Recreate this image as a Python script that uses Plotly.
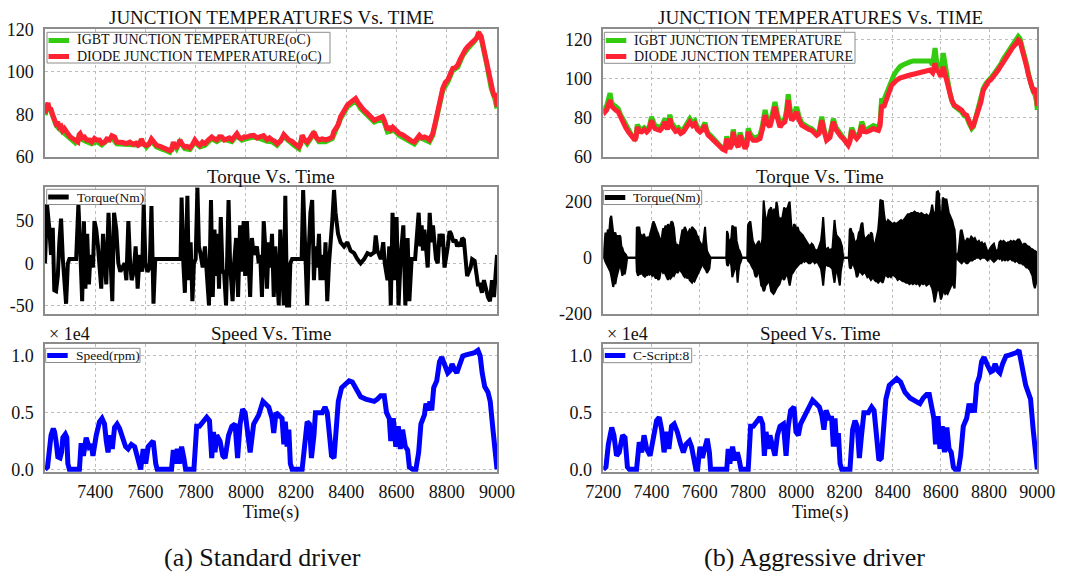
import plotly.graph_objects as go

# ---------------------------------------------------------------- data
# (a) Standard driver -- junction temperatures (degC)
t_temp_std = [7200, 7208, 7212, 7216, 7222, 7231, 7238, 7244, 7250, 7257, 7264, 7270, 7277, 7284, 7291,
              7300, 7311, 7320, 7331, 7336, 7340, 7348, 7357, 7366, 7377, 7386, 7397, 7406, 7417, 7426,
              7437, 7446, 7457, 7466, 7477, 7486, 7497, 7510, 7524, 7538, 7551, 7562, 7571, 7578, 7584,
              7592, 7604, 7614, 7624, 7632, 7644, 7658, 7671, 7684, 7697, 7705, 7711, 7718, 7724, 7731,
              7737, 7746, 7757, 7766, 7777, 7788, 7797, 7806, 7817, 7827, 7837, 7850, 7864, 7874, 7884,
              7894, 7904, 7914, 7924, 7934, 7944, 7954, 7964, 7974, 7984, 7994, 8004, 8018, 8031, 8044,
              8057, 8070, 8084, 8094, 8104, 8114, 8124, 8138, 8151, 8161, 8171, 8181, 8191, 8201, 8211,
              8218, 8224, 8234, 8244, 8256, 8271, 8281, 8291, 8304, 8317, 8330, 8344, 8350, 8357, 8367,
              8377, 8390, 8404, 8420, 8437, 8447, 8457, 8470, 8484, 8497, 8511, 8524, 8537, 8544, 8551,
              8558, 8564, 8571, 8578, 8585, 8591, 8600, 8611, 8624, 8637, 8650, 8660, 8671, 8681, 8691,
              8701, 8711, 8721, 8731, 8738, 8744, 8754, 8764, 8774, 8784, 8794, 8804, 8814, 8824, 8834,
              8844, 8854, 8864, 8874, 8884, 8898, 8911, 8920, 8927, 8932, 8937, 8947, 8957, 8967, 8977,
              8985, 8991, 8996, 9000]
diode_std = [80.5, 84, 85.5, 82, 83, 79.7, 78, 75.7, 76.5, 74, 74.5, 72.5, 73.4, 71.5, 71,
             69.5, 68.7, 67.5, 67, 70.5, 71, 69, 69.4, 68, 68, 67, 68.7, 68, 68, 66.5,
             67, 68.5, 68, 70, 69.4, 67, 67, 66.8, 66.3, 67, 66, 66.5, 65.5, 66, 68.5,
             66, 65.5, 66, 68.5, 67, 65.5, 65, 64.3, 63.8, 63, 63.5, 67, 65, 64.7, 66,
             68, 66, 64.7, 65, 64.3, 66, 68, 66.5, 65.5, 67, 66.3, 68, 69.4, 68.5, 68,
             69.5, 69.4, 68, 68.7, 69, 68, 69.5, 71, 69, 68.7, 69.5, 69.4, 70, 70.2, 69,
             69.4, 70, 68.2, 69, 68, 67.5, 66.3, 67.5, 70.5, 69, 68, 67.5, 66.3, 65.5, 64.7,
             66, 70.2, 68, 67, 69, 71.8, 69, 68, 68.5, 68, 68.5, 69.4, 72, 73.4, 75,
             78.9, 82, 84.4, 86, 87.5, 85.5, 83.6, 82, 80.5, 79, 77.3, 78, 78.6, 79, 77.3,
             74, 72.6, 74.5, 73, 74, 73.4, 72.5, 71, 70.5, 69.4, 68, 67.5, 67, 68.5, 70.2,
             69, 69.4, 69, 68, 69.5, 71, 76, 82, 87, 92.3, 95, 96.2, 99, 101.7, 102,
             103.3, 106, 108.8, 110.5, 112, 113.5, 115.4, 116, 118.6, 118, 116.7, 111, 105.7, 99, 93,
             90, 88.3, 90, 83.6]
t_igbt_std = [7200, 7212, 7222, 7231, 7244, 7257, 7270, 7284, 7300, 7320, 7336, 7348, 7366, 7386, 7406,
              7426, 7446, 7466, 7486, 7510, 7538, 7562, 7584, 7604, 7624, 7644, 7671, 7697, 7711, 7724,
              7737, 7757, 7777, 7797, 7817, 7837, 7864, 7884, 7904, 7924, 7944, 7964, 7984, 8004, 8031,
              8057, 8084, 8104, 8124, 8151, 8171, 8191, 8211, 8224, 8244, 8271, 8291, 8317, 8344, 8357,
              8377, 8404, 8437, 8457, 8484, 8511, 8537, 8551, 8564, 8591, 8611, 8637, 8671, 8691, 8711,
              8731, 8744, 8764, 8784, 8804, 8824, 8844, 8864, 8884, 8911, 8927, 8937, 8957, 8977, 8991,
              9000]
igbt_std = [79.7, 84.5, 82.2, 78.9, 74.9, 73.2, 71.7, 70.7, 68.7, 66.7, 69.6, 68.2, 67.2, 66.2, 67.2,
            65.7, 67.6, 69.1, 66.2, 66, 66.2, 65.7, 67.6, 64.7, 67.6, 64.7, 63.5, 62.2, 66.1, 63.9,
            67.1, 63.9, 63.5, 67.1, 64.7, 65.5, 68.6, 67.2, 68.6, 67.9, 67.2, 70.1, 67.9, 68.6, 69.4,
            68.6, 67.4, 67.2, 65.5, 69.6, 67.2, 65.5, 63.9, 69.3, 66.2, 70.9, 67.2, 67.2, 68.6, 72.5,
            78, 83.5, 86.6, 82.7, 79.6, 76.4, 77.7, 76.4, 71.7, 72.5, 70.1, 68.5, 66.1, 69.3, 68.5,
            67.1, 70.1, 80.8, 91.3, 95.2, 100.7, 102.3, 107.8, 111, 114.5, 117.6, 115.8, 104.8, 92.2, 87.5,
            82.8]

# (a) Standard driver -- torque (Nm)
t_torque_std = [7200, 7208, 7217, 7224, 7231, 7237, 7244, 7251, 7257, 7264, 7271, 7277, 7284, 7291, 7297,
                7324, 7333, 7340, 7348, 7355, 7361, 7368, 7375, 7381, 7391, 7397, 7404, 7411, 7417, 7424,
                7431, 7437, 7444, 7453, 7460, 7468, 7475, 7484, 7492, 7500, 7508, 7517, 7524, 7532, 7539,
                7545, 7553, 7561, 7569, 7577, 7587, 7593, 7600, 7608, 7617, 7624, 7632, 7639, 7740, 7744,
                7751, 7757, 7767, 7773, 7780, 7787, 7793, 7800, 7807, 7813, 7820, 7828, 7837, 7844, 7853,
                7861, 7868, 7875, 7881, 7887, 7893, 7900, 7907, 7913, 7921, 7931, 7937, 7947, 7953, 7961,
                7969, 7977, 7984, 7991, 7997, 8004, 8011, 8017, 8024, 8031, 8037, 8044, 8051, 8057, 8064,
                8071, 8077, 8084, 8091, 8097, 8104, 8111, 8117, 8124, 8131, 8137, 8144, 8151, 8157, 8164,
                8172, 8177, 8184, 8222, 8228, 8235, 8244, 8251, 8257, 8264, 8271, 8277, 8284, 8291, 8297,
                8304, 8311, 8317, 8324, 8331, 8337, 8344, 8351, 8357, 8367, 8377, 8391, 8404, 8417, 8431,
                8444, 8457, 8471, 8484, 8497, 8511, 8517, 8524, 8537, 8547, 8553, 8564, 8571, 8577, 8584,
                8591, 8600, 8608, 8617, 8627, 8635, 8644, 8651, 8660, 8674, 8681, 8688, 8695, 8700, 8705,
                8711, 8717, 8724, 8732, 8739, 8745, 8751, 8757, 8764, 8771, 8777, 8784, 8791, 8797, 8804,
                8811, 8817, 8827, 8835, 8841, 8848, 8855, 8861, 8868, 8875, 8881, 8888, 8895, 8901, 8911,
                8917, 8924, 8932, 8940, 8948, 8957, 8964, 8972, 8980, 8988, 8995, 9000]
torque_std = [0, 70, 42, 10, 42, -32, -33, -15, 25, 53, 5, -25, -48, 0, 5,
              5, 70, 20, -45, 50, -30, 35, -25, 10, -5, 50, 40, 20, -10, -30,
              35, 10, -25, 60, 10, -45, 60, 40, 0, -10, -5, 0, -20, 50, 0,
              -20, -10, 20, -30, 10, -10, 70, 0, -10, -5, 68, -48, 5, 5, 78,
              0, -35, 80, -20, 25, -45, 0, 5, 90, 20, 10, -5, 20, -10, -50,
              75, -40, 40, -15, 35, -30, 55, -10, -10, -50, 75, 0, -45, 0, 30,
              -40, 45, -10, 50, -15, 50, 10, -40, 30, 10, 15, 20, 0, 10, -40,
              50, 20, -30, 25, -5, 35, -40, 20, -20, -50, 40, -10, -50, 80, -50,
              -50, 0, 5, 5, 87, 20, -50, 20, 60, 75, -20, 20, -5, 35, -20,
              10, -20, 25, -45, 0, 20, 50, 87, 60, 35, 25, 20, 25, 15, 12,
              5, 0, 5, 12, 10, 13, 33, 15, 5, 25, 0, -20, 20, -50, 60,
              -20, 55, -50, 10, 45, -50, 30, -45, 5, 5, 30, 60, 20, 45, 15,
              40, 20, -5, 60, 25, 45, 20, 5, 0, 35, 20, 35, -5, 5, 20,
              38, 35, 25, 28, 20, 25, 20, 30, 28, 10, -15, -10, -5, 5, 3,
              -10, -25, -25, -35, -20, -35, -40, -45, -20, -40, -10, 10]

# (a) Standard driver -- motor speed (rpm)
t_speed_std = [7200, 7210, 7215, 7224, 7233, 7238, 7244, 7251, 7260, 7266, 7271, 7281, 7287, 7291, 7297,
               7337, 7344, 7353, 7364, 7375, 7384, 7391, 7404, 7417, 7427, 7437, 7444, 7451, 7460, 7468,
               7477, 7487, 7497, 7511, 7521, 7531, 7544, 7557, 7571, 7581, 7591, 7601, 7611, 7621, 7631,
               7641, 7647, 7704, 7711, 7717, 7727, 7735, 7744, 7753, 7760, 7793, 7804, 7815, 7831, 7844,
               7855, 7864, 7871, 7877, 7884, 7897, 7908, 7917, 7931, 7944, 7957, 7967, 7977, 7987, 7997,
               8007, 8017, 8031, 8051, 8068, 8084, 8091, 8104, 8111, 8120, 8131, 8144, 8151, 8157, 8164,
               8171, 8177, 8184, 8224, 8235, 8244, 8253, 8261, 8271, 8277, 8291, 8304, 8315, 8324, 8333,
               8341, 8351, 8357, 8368, 8381, 8397, 8411, 8424, 8437, 8457, 8477, 8497, 8511, 8524, 8537,
               8551, 8560, 8571, 8577, 8587, 8597, 8607, 8615, 8624, 8635, 8644, 8651, 8664, 8677, 8688,
               8697, 8711, 8717, 8727, 8733, 8740, 8748, 8760, 8771, 8780, 8791, 8804, 8813, 8821, 8831,
               8840, 8851, 8864, 8877, 8897, 8911, 8924, 8933, 8941, 8951, 8964, 8973, 8984, 8997, 9000]
speed_std = [0, 200, 1200, 3000, 3600, 3300, 2500, 1100, 1000, 1500, 2800, 3100, 2800, 500, 0,
             0, 2300, 1200, 2800, 2000, 2200, 1200, 3000, 4200, 4500, 4000, 2500, 1500, 3000, 1800,
             3700, 4000, 3600, 2500, 2000, 1800, 2200, 2000, 1000, 0, 1800, 500, 2000, 2200, 2500,
             500, 0, 0, 1700, 500, 1800, 500, 2000, 1000, 0, 0, 3800, 3800, 4200, 4600,
             4300, 1000, 3300, 1500, 3000, 2500, 1200, 1000, 3000, 3800, 4000, 1000, 4000, 5300, 5000,
             3500, 1500, 4000, 4800, 6000, 5600, 5500, 4500, 3200, 5000, 4700, 4500, 2200, 4200, 2000,
             3500, 500, 0, 0, 3000, 4200, 4000, 1000, 3000, 5000, 5000, 5000, 5500, 5000, 3000,
             1200, 1000, 3000, 6000, 7200, 7600, 7800, 7700, 7200, 6400, 6200, 6100, 6000, 6200, 6500,
             6500, 5000, 4500, 2500, 4500, 2000, 3800, 1800, 3500, 2000, 1700, 200, 0, 0, 1500,
             4000, 4800, 5800, 5200, 6000, 5200, 7200, 7800, 9500, 9900, 9200, 8500, 8700, 9300, 8800,
             8500, 9200, 10000, 10100, 10200, 10300, 10500, 10000, 8500, 7300, 6800, 6000, 3500, 200, 0]

# (b) Aggressive driver -- junction temperatures (degC)
t_temp_agg = [7200, 7207, 7214, 7221, 7228, 7234, 7241, 7250, 7262, 7272, 7283, 7293, 7304, 7318, 7331,
              7336, 7341, 7350, 7359, 7370, 7380, 7390, 7400, 7407, 7414, 7425, 7435, 7445, 7456, 7466,
              7476, 7483, 7490, 7500, 7511, 7521, 7532, 7545, 7559, 7570, 7580, 7590, 7601, 7612, 7622,
              7628, 7635, 7645, 7656, 7670, 7684, 7695, 7705, 7712, 7718, 7725, 7732, 7739, 7746, 7753,
              7760, 7767, 7777, 7788, 7795, 7801, 7811, 7822, 7836, 7850, 7860, 7871, 7880, 7891, 7901,
              7912, 7922, 7933, 7943, 7953, 7960, 7967, 7974, 7981, 7991, 8002, 8012, 8023, 8033, 8043,
              8053, 8064, 8075, 8085, 8095, 8106, 8116, 8126, 8140, 8154, 8165, 8175, 8185, 8195, 8205,
              8216, 8223, 8230, 8240, 8251, 8262, 8272, 8282, 8292, 8306, 8320, 8330, 8341, 8348, 8354,
              8365, 8375, 8385, 8396, 8406, 8417, 8430, 8444, 8458, 8472, 8486, 8500, 8513, 8527, 8541,
              8555, 8566, 8576, 8583, 8590, 8600, 8610, 8618, 8627, 8636, 8645, 8655, 8666, 8676, 8686,
              8697, 8707, 8718, 8728, 8735, 8742, 8749, 8756, 8766, 8776, 8787, 8797, 8808, 8818, 8828,
              8838, 8849, 8859, 8870, 8880, 8890, 8900, 8910, 8921, 8928, 8935, 8945, 8956, 8963, 8970,
              8977, 8983, 8990, 8997, 9000]
diode_agg = [84.5, 83, 84, 86, 89, 86, 84.7, 84, 83, 80, 77.9, 75, 72.8, 70, 68.5,
             70, 75.3, 73, 72.8, 74, 72.8, 74, 78.7, 76, 74.5, 74, 73.6, 75, 77.9, 74,
             79.6, 76, 74.5, 73, 73.6, 72, 72.8, 75, 77.9, 76, 77, 74, 72.8, 74, 76.2,
             73, 71.1, 70, 68.5, 66.5, 65.1, 64, 63.4, 69.4, 66, 64.3, 66, 72.8, 68, 66,
             65, 71.1, 67, 64.3, 66, 72.8, 70, 68.5, 68.5, 69.4, 74, 81.3, 77, 75.3, 80,
             85.6, 80, 75.3, 77, 77.9, 82, 89, 83, 78.7, 80, 83, 79, 76.2, 75.5, 74.5,
             74, 73.6, 72.5, 71.1, 72, 78.7, 73, 68.5, 70, 77.9, 74, 71.9, 70.5, 69.4, 67.5,
             66, 68, 73.6, 71, 69.4, 71, 76.2, 73, 72.8, 73.5, 74.5, 74, 73.6, 76, 85.6,
             86, 90.7, 93, 96.6, 98, 99.2, 100.2, 100.9, 101.5, 101.8, 102.2, 102.6, 103, 103.5, 104,
             104.3, 103, 107.7, 104, 103.5, 101, 106, 102, 97.5, 92, 89, 86.5, 85.6, 84.5, 83.9,
             82, 81.3, 78, 75.3, 76, 78.7, 81, 83.9, 88, 94.1, 96.5, 98.4, 99.5, 100.9, 102.5,
             104.3, 106.5, 108.6, 110.5, 112, 114, 116.2, 117.5, 119.7, 119, 116.2, 111, 106, 102, 97.5,
             96, 94.1, 95, 92, 86]
igbt_agg = [86, 85, 86, 89, 92.5, 88, 86.5, 86, 84.5, 81.5, 79, 76, 73.8, 71, 69.5,
            71, 76.5, 74.5, 74, 75, 74, 75, 80.5, 77.5, 76, 75.5, 75, 76.5, 79.5, 75.5,
            81.5, 77.5, 76, 74.5, 75, 73.5, 74, 76.5, 79.5, 77.5, 78.5, 75, 74, 75, 77.5,
            74, 72, 71, 69.3, 67.2, 65.8, 64.7, 64, 70.5, 67, 65, 67, 74, 69, 67,
            66, 72.5, 68, 65, 67, 74.5, 71.5, 70, 70, 71, 76, 84, 79, 77, 82,
            88, 82, 77, 78.5, 79.5, 84, 92, 85, 80.5, 82, 85.5, 80.5, 77.5, 76.5, 75.5,
            75, 74.5, 73.5, 72, 73, 80.5, 74, 69.5, 71, 79.5, 75, 73, 71.5, 70.2, 68.2,
            66.7, 69, 75, 72, 70.5, 72, 78, 74.5, 74, 75, 76, 75.5, 75, 78, 89,
            89.5, 93, 96, 100, 102, 104, 106, 107, 108, 108.5, 109, 109, 109, 109.5, 109.5,
            109, 107, 115.5, 108, 106, 104, 113, 106, 100, 93.5, 89, 86, 85, 84, 83,
            81, 80.5, 77, 74.5, 75.5, 78.7, 81.5, 84.5, 89, 95, 97.5, 99.5, 100.5, 102, 103.5,
            105.5, 107.5, 110, 112, 113.5, 115.5, 118, 119.5, 121.5, 120.5, 117.5, 112, 107, 102.5, 98,
            96, 93.5, 92, 88, 84]

# (b) Aggressive driver -- torque (Nm): upper and lower extent of the fast oscillation
t_torque_agg = [7200, 7205, 7209, 7214, 7219, 7225, 7229, 7233, 7237, 7241, 7246, 7250, 7255, 7259, 7263,
                7267, 7271, 7275, 7279, 7284, 7289, 7294, 7299, 7337, 7339, 7344, 7349, 7353, 7358, 7363,
                7368, 7373, 7378, 7383, 7388, 7393, 7398, 7403, 7408, 7413, 7418, 7423, 7428, 7433, 7438,
                7443, 7448, 7453, 7458, 7463, 7468, 7473, 7478, 7483, 7488, 7493, 7498, 7503, 7508, 7513,
                7518, 7523, 7528, 7533, 7538, 7543, 7548, 7553, 7558, 7563, 7568, 7573, 7578, 7583, 7588,
                7593, 7598, 7603, 7608, 7613, 7618, 7622, 7626, 7630, 7635, 7640, 7645, 7710, 7713, 7717,
                7721, 7726, 7731, 7735, 7740, 7745, 7749, 7753, 7757, 7761, 7765, 7770, 7775, 7797, 7800,
                7805, 7810, 7815, 7820, 7825, 7830, 7835, 7840, 7845, 7850, 7855, 7860, 7865, 7869, 7873,
                7878, 7883, 7887, 7892, 7896, 7901, 7906, 7910, 7914, 7918, 7922, 7926, 7931, 7936, 7941,
                7946, 7950, 7955, 7960, 7965, 7970, 7973, 7977, 7981, 7986, 7991, 7996, 8001, 8006, 8011,
                8016, 8022, 8028, 8034, 8040, 8046, 8052, 8058, 8064, 8070, 8077, 8084, 8091, 8097, 8103,
                8108, 8112, 8116, 8120, 8126, 8132, 8138, 8144, 8150, 8155, 8159, 8163, 8167, 8172, 8177,
                8181, 8185, 8190, 8195, 8218, 8222, 8226, 8231, 8236, 8241, 8246, 8251, 8255, 8260, 8265,
                8270, 8275, 8280, 8285, 8290, 8295, 8300, 8305, 8310, 8315, 8320, 8325, 8330, 8335, 8340,
                8345, 8349, 8354, 8359, 8364, 8369, 8375, 8381, 8387, 8393, 8400, 8407, 8414, 8421, 8428,
                8435, 8442, 8449, 8456, 8463, 8470, 8477, 8484, 8491, 8498, 8505, 8512, 8519, 8526, 8533,
                8540, 8547, 8553, 8559, 8564, 8569, 8574, 8579, 8583, 8588, 8592, 8596, 8600, 8604, 8608,
                8613, 8618, 8623, 8628, 8633, 8638, 8643, 8648, 8653, 8657, 8660, 8662, 8668, 8673, 8678,
                8682, 8686, 8691, 8696, 8701, 8706, 8711, 8716, 8721, 8726, 8731, 8736, 8741, 8746, 8752,
                8758, 8764, 8770, 8776, 8782, 8788, 8794, 8799, 8804, 8809, 8814, 8820, 8826, 8832, 8838,
                8843, 8848, 8854, 8860, 8866, 8872, 8878, 8884, 8890, 8896, 8902, 8908, 8914, 8920, 8925,
                8930, 8935, 8940, 8945, 8950, 8955, 8960, 8965, 8970, 8975, 8980, 8985, 8990, 8995, 9000]
torque_agg_hi = [0, 60, 90, 75, 100, 95, 140, 150, 110, 90, 85, 90, 70, 80, 65,
                 80, 75, 40, 35, 20, 15, 10, 0, 0, 110, 105, 110, 85, 80, 75,
                 85, 70, 60, 75, 65, 80, 95, 115, 130, 120, 105, 95, 85, 70, 55,
                 75, 105, 100, 115, 95, 120, 105, 115, 130, 125, 105, 60, 40, 45, 35,
                 50, 80, 100, 95, 110, 100, 85, 90, 100, 95, 110, 105, 100, 95, 80,
                 75, 60, 50, 45, 40, 90, 110, 60, 25, 15, 5, 0, 0, 95, 85,
                 50, 60, 70, 115, 110, 100, 110, 60, 40, 30, 25, 15, 0, 0, 115,
                 125, 130, 95, 60, 50, 40, 45, 55, 60, 45, 40, 70, 205, 170, 140,
                 130, 150, 170, 175, 180, 160, 170, 175, 150, 200, 185, 150, 135, 140, 135,
                 160, 180, 170, 175, 180, 195, 200, 150, 100, 95, 120, 115, 100, 110, 95,
                 90, 85, 80, 70, 60, 55, 45, 40, 50, 45, 30, 25, 30, 45, 60,
                 100, 145, 90, 35, 30, 35, 25, 30, 30, 80, 135, 100, 80, 75, 70,
                 65, 55, 40, 0, 0, 100, 105, 90, 85, 60, 55, 60, 65, 90, 95,
                 120, 125, 80, 60, 70, 75, 80, 70, 90, 85, 50, 40, 60, 90, 100,
                 150, 208, 200, 205, 160, 130, 125, 135, 130, 125, 120, 125, 120, 125, 130,
                 135, 130, 140, 150, 155, 155, 160, 160, 165, 160, 160, 155, 160, 155, 150,
                 155, 150, 150, 165, 190, 160, 150, 170, 235, 238, 230, 170, 110, 150, 215,
                 210, 205, 210, 180, 160, 150, 140, 130, 110, 100, 60, 0, 10, 20, 60,
                 95, 100, 80, 60, 55, 65, 70, 60, 65, 75, 70, 65, 70, 60, 55,
                 60, 50, 55, 45, 50, 35, 20, 25, 35, 40, 45, 50, 30, 20, 30,
                 55, 60, 55, 60, 55, 50, 55, 55, 60, 55, 60, 55, 60, 65, 65,
                 55, 45, 40, 50, 50, 45, 40, 40, 35, 30, 30, 25, 25, 20, 20]
torque_agg_lo = [0, -5, -15, -25, -30, -45, -50, -65, -90, -105, -85, -95, -70, -55, -45,
                 -30, -25, -55, -65, -45, -60, -35, 0, 0, -50, -65, -55, -60, -50, -60,
                 -65, -70, -55, -65, -50, -60, -55, -65, -60, -70, -75, -65, -80, -75, -50,
                 -45, -55, -50, -60, -70, -80, -65, -75, -70, -60, -65, -55, -45, -55, -45,
                 -40, -50, -55, -65, -70, -60, -75, -65, -80, -85, -90, -80, -85, -75, -65,
                 -60, -45, -35, -25, -20, -35, -40, -45, -55, -45, -40, 0, 0, -25, -30,
                 -15, -10, -30, -70, -55, -35, -30, -40, -90, -50, -25, -15, 0, 0, -10,
                 -15, -20, -30, -40, -45, -65, -70, -55, -50, -70, -100, -105, -120, -115, -100,
                 -95, -85, -80, -100, -120, -125, -130, -125, -115, -110, -105, -100, -95, -80, -70,
                 -75, -80, -70, -60, -65, -90, -100, -80, -60, -55, -45, -40, -35, -30, -25,
                 -20, -20, -10, -15, -10, -15, -20, -20, -15, -10, -20, -15, -20, -30, -40,
                 -70, -100, -60, -30, -25, -30, -30, -35, -40, -70, -90, -60, -40, -55, -80,
                 -100, -50, -20, 0, 0, -35, -40, -25, -20, -30, -45, -70, -65, -50, -50,
                 -55, -60, -55, -50, -60, -70, -65, -75, -80, -75, -70, -80, -85, -85, -90,
                 -85, -80, -85, -90, -75, -60, -65, -70, -65, -70, -60, -65, -70, -80, -75,
                 -80, -85, -85, -90, -90, -95, -90, -95, -90, -95, -90, -100, -90, -95, -90,
                 -100, -95, -90, -100, -110, -130, -160, -140, -120, -115, -110, -130, -150, -140, -125,
                 -120, -130, -125, -130, -120, -110, -100, -90, -100, -110, -60, 0, -5, -10, -15,
                 -20, -20, -15, -10, -15, -20, -20, -15, -10, -10, -10, -5, -5, 0, 0,
                 0, -5, 0, 0, 0, -5, -10, -5, 0, -5, -10, -15, -10, -5, 0,
                 -5, 0, -10, -5, -10, -5, -10, -5, -5, -10, -10, -15, -10, -15, -20,
                 -20, -20, -25, -25, -30, -35, -35, -40, -45, -55, -65, -95, -110, -90, -60]

# (b) Aggressive driver -- motor speed (rpm)
t_speed_agg = [7200, 7211, 7221, 7235, 7244, 7255, 7266, 7280, 7290, 7300, 7308, 7338, 7349, 7359, 7369,
               7380, 7394, 7407, 7421, 7432, 7442, 7452, 7463, 7472, 7483, 7494, 7507, 7521, 7532, 7543,
               7557, 7566, 7576, 7584, 7591, 7601, 7611, 7622, 7631, 7640, 7645, 7712, 7718, 7725, 7736,
               7746, 7756, 7764, 7771, 7801, 7811, 7822, 7836, 7850, 7861, 7868, 7875, 7884, 7891, 7902,
               7912, 7922, 7933, 7947, 7958, 7967, 7977, 7991, 7999, 8009, 8018, 8030, 8043, 8057, 8068,
               8082, 8096, 8106, 8115, 8124, 8137, 8147, 8154, 8161, 8168, 8175, 8182, 8189, 8223, 8234,
               8244, 8253, 8262, 8271, 8281, 8299, 8313, 8323, 8334, 8343, 8353, 8361, 8372, 8386, 8403,
               8417, 8433, 8451, 8472, 8493, 8513, 8527, 8541, 8552, 8562, 8571, 8578, 8588, 8596, 8606,
               8615, 8625, 8634, 8643, 8652, 8659, 8673, 8682, 8693, 8707, 8717, 8725, 8732, 8739, 8749,
               8760, 8769, 8779, 8793, 8807, 8815, 8825, 8836, 8845, 8856, 8870, 8887, 8900, 8914, 8924,
               8932, 8942, 8952, 8963, 8972, 8983, 8997, 9000]
speed_agg = [0, 200, 2200, 3700, 3000, 1200, 1500, 3000, 2800, 200, 0, 0, 2400, 1500, 3000,
             1800, 1200, 3000, 4300, 4600, 3500, 1500, 3300, 1800, 3800, 4000, 3300, 2200, 1500, 2200,
             2500, 2000, 800, 0, 0, 2000, 1000, 2000, 2700, 1500, 0, 0, 1800, 500, 2000,
             800, 1500, 800, 0, 0, 3800, 3800, 4200, 4600, 4000, 1200, 3300, 1800, 3000, 2200,
             1200, 3000, 3800, 4000, 1200, 3800, 5200, 5500, 3300, 3000, 4000, 4500, 5000, 5500, 6100,
             5800, 5500, 4800, 3500, 5200, 4500, 4500, 2000, 4500, 2000, 3200, 500, 0, 0, 3500,
             4300, 3800, 1000, 3000, 5000, 5000, 5500, 5200, 3000, 800, 1000, 3500, 6200, 7400, 7800,
             8000, 7700, 6800, 6300, 6000, 5800, 6300, 6600, 6600, 5200, 4500, 2200, 4700, 1800, 3800,
             1500, 3700, 1800, 1500, 200, 0, 0, 1200, 3800, 4500, 5800, 5000, 5800, 5000, 7500,
             8200, 9500, 9900, 9200, 8600, 8700, 9300, 8700, 8500, 9300, 10000, 10100, 10200, 10300, 10500,
             9800, 8500, 7400, 6800, 6200, 3500, 500, 0]

# tick labels
x_ticks_std = [7400, 7600, 7800, 8000, 8200, 8400, 8600, 8800, 9000]
x_ticks_agg = [7200, 7400, 7600, 7800, 8000, 8200, 8400, 8600, 8800, 9000]
temp_ticks_std = [60, 80, 100, 120]
temp_ticks_agg = [60, 80, 100, 120]
torque_ticks_std = [-50, 0, 50]
torque_ticks_agg = [-200, 0, 200]
speed_ticks = [0, 5000, 10000]
speed_tick_text = ["0.0", "0.5", "1.0"]

# ---------------------------------------------------------------- styling
W, H = 1076, 575
SERIF = "Liberation Serif, Times New Roman, serif"
INK = "#111111"
GREEN = "#33cc11"
RED = "#ff2233"
BLUE = "#0000ff"
FRAME = "#8c8c8c"
GRID = "#bdbdbd"


def fx(p):
    return p / W


def fy(p):
    return 1 - p / H


LEFT_DOM = [fx(45), fx(497)]
RIGHT_DOM = [fx(603.3), fx(1037.3)]
ROW_DOM = {
    "temp": [fy(157), fy(29.3)],
    "torque": [fy(314.3), fy(187.3)],
    "speed": [fy(472.3), fy(344.3)],
}

fig = go.Figure()

# axis index: 1..3 left column (temp, torque, speed), 4..6 right column
panels = [
    (1, "temp", LEFT_DOM), (2, "torque", LEFT_DOM), (3, "speed", LEFT_DOM),
    (4, "temp", RIGHT_DOM), (5, "torque", RIGHT_DOM), (6, "speed", RIGHT_DOM),
]


def ax_name(kind, i):
    return kind if i == 1 else f"{kind}{i}"


def ref(kind, i):
    return kind[0] if i == 1 else f"{kind[0]}{i}"


# traces
fig.add_trace(go.Scatter(x=t_igbt_std, y=igbt_std, name="IGBT JUNCTION TEMPERATURE(oC)",
                         mode="lines", line=dict(color=GREEN, width=5), xaxis="x", yaxis="y"))
fig.add_trace(go.Scatter(x=t_temp_std, y=diode_std, name="DIODE JUNCTION TEMPERATURE(oC)",
                         mode="lines", line=dict(color=RED, width=5), xaxis="x", yaxis="y"))
fig.add_trace(go.Scatter(x=t_torque_std, y=torque_std, name="Torque(Nm)",
                         mode="lines", line=dict(color="black", width=4), xaxis="x2", yaxis="y2"))
fig.add_trace(go.Scatter(x=t_speed_std, y=speed_std, name="Speed(rpm)",
                         mode="lines", line=dict(color=BLUE, width=5), xaxis="x3", yaxis="y3"))

fig.add_trace(go.Scatter(x=t_temp_agg, y=igbt_agg, name="IGBT JUNCTION TEMPERATURE",
                         mode="lines", line=dict(color=GREEN, width=5), xaxis="x4", yaxis="y4"))
fig.add_trace(go.Scatter(x=t_temp_agg, y=diode_agg, name="DIODE JUNCTION TEMPERATURE",
                         mode="lines", line=dict(color=RED, width=5), xaxis="x4", yaxis="y4"))
fig.add_trace(go.Scatter(x=t_torque_agg, y=torque_agg_lo, name="Torque(Nm)",
                         mode="lines", line=dict(color="black", width=2), xaxis="x5", yaxis="y5"))
fig.add_trace(go.Scatter(x=t_torque_agg, y=torque_agg_hi, name="Torque(Nm)",
                         mode="lines", line=dict(color="black", width=2), fill="tonexty",
                         fillcolor="black", xaxis="x5", yaxis="y5"))
fig.add_trace(go.Scatter(x=t_speed_agg, y=speed_agg, name="C-Script:8",
                         mode="lines", line=dict(color=BLUE, width=5), xaxis="x6", yaxis="y6"))

# axes
y_setup = {
    1: dict(range=[60, 120], tickvals=temp_ticks_std, ticktext=[str(v) for v in temp_ticks_std]),
    2: dict(range=[-60.5, 90.2], tickvals=torque_ticks_std, ticktext=[str(v) for v in torque_ticks_std]),
    3: dict(range=[-260, 11030], tickvals=speed_ticks, ticktext=speed_tick_text),
    4: dict(range=[60, 125.1], tickvals=temp_ticks_agg, ticktext=[str(v) for v in temp_ticks_agg]),
    5: dict(range=[-203, 252], tickvals=torque_ticks_agg, ticktext=[str(v) for v in torque_ticks_agg]),
    6: dict(range=[-260, 11030], tickvals=speed_ticks, ticktext=speed_tick_text),
}

common = dict(showline=True, mirror=True, linecolor=FRAME, linewidth=1.5,
              showgrid=True, gridcolor=GRID, gridwidth=1, griddash="dot",
              zeroline=False, ticks="", automargin=False,
              tickfont=dict(family=SERIF, size=18, color=INK), fixedrange=True)

layout_axes = {}
for i, kind, dom in panels:
    xt = x_ticks_std if dom is LEFT_DOM else x_ticks_agg
    xaxis = dict(common, domain=dom, anchor=ref("yaxis", i), range=[7200, 9000],
                 tickvals=xt, ticktext=[str(v) for v in xt],
                 showticklabels=(kind == "speed"), ticklabelstandoff=2)
    if kind == "speed":
        xaxis["title"] = dict(text="Time(s)", font=dict(family=SERIF, size=18, color=INK), standoff=0)
    layout_axes[ax_name("xaxis", i)] = xaxis
    layout_axes[ax_name("yaxis", i)] = dict(
        common, domain=ROW_DOM[kind], anchor=ref("xaxis", i), ticklabelstandoff=6, **y_setup[i])

fig.update_layout(**layout_axes)

# panel titles
titles = {"temp": ("JUNCTION TEMPERATURES Vs. TIME", 17), "torque": ("Torque Vs. Time", 176),
          "speed": ("Speed Vs. Time", 333)}
annotations = []
for dom in (LEFT_DOM, RIGHT_DOM):
    cx = (dom[0] + dom[1]) / 2
    for kind, (txt, py) in titles.items():
        annotations.append(dict(text=txt, x=cx, y=fy(py), xref="paper", yref="paper",
                                xanchor="center", yanchor="middle", showarrow=False,
                                font=dict(family=SERIF, size=19, color=INK)))
    annotations.append(dict(text="× 1e4", x=dom[0] + fx(1.5), y=fy(334), xref="paper", yref="paper",
                            xanchor="left", yanchor="middle", showarrow=False,
                            font=dict(family=SERIF, size=18, color=INK)))

# sub-figure captions
annotations.append(dict(text="(a) Standard driver", x=fx(262), y=fy(557), xref="paper", yref="paper",
                        xanchor="center", yanchor="middle", showarrow=False,
                        font=dict(family=SERIF, size=26, color=INK)))
annotations.append(dict(text="(b) Aggressive driver", x=fx(814), y=fy(557), xref="paper", yref="paper",
                        xanchor="center", yanchor="middle", showarrow=False,
                        font=dict(family=SERIF, size=26, color=INK)))

# in-plot legend boxes (left, top, right, bottom in px) with their entries
shapes = []


def legend_box(box, entries, size):
    l, t, r, b = box
    shapes.append(dict(type="rect", xref="paper", yref="paper", x0=fx(l), x1=fx(r), y0=fy(b), y1=fy(t),
                       line=dict(color=FRAME, width=1), fillcolor="white", layer="above"))
    for label, color, cy in entries:
        shapes.append(dict(type="line", xref="paper", yref="paper", x0=fx(l + 1.5), x1=fx(l + 22),
                           y0=fy(cy), y1=fy(cy), line=dict(color=color, width=5), layer="above"))
        annotations.append(dict(text=label, x=fx(l + 29), y=fy(cy), xref="paper", yref="paper",
                                xanchor="left", yanchor="middle", showarrow=False, borderpad=0,
                                font=dict(family=SERIF, size=size, color=INK)))


legend_box((47, 32.3, 330, 63), [("IGBT JUNCTION TEMPERATURE(oC)", GREEN, 40.5),
                                 ("DIODE JUNCTION TEMPERATURE(oC)", RED, 56.5)], 14)
legend_box((604.3, 32.3, 855, 63.3), [("IGBT JUNCTION TEMPERATURE", GREEN, 40.5),
                                      ("DIODE JUNCTION TEMPERATURE", RED, 56.5)], 14)
legend_box((46.7, 189.3, 145, 204.5), [("Torque(Nm)", "black", 197)], 13.5)
legend_box((603.3, 190.5, 701.7, 204.5), [("Torque(Nm)", "black", 197.5)], 13.5)
legend_box((45.7, 348.3, 140, 362.5), [("Speed(rpm)", BLUE, 355.5)], 13.5)
legend_box((603.3, 348.3, 691.7, 362.7), [("C-Script:8", BLUE, 355.5)], 13.5)

fig.update_layout(
    width=W, height=H, margin=dict(l=0, r=0, t=0, b=0),
    paper_bgcolor="white", plot_bgcolor="white", showlegend=False,
    annotations=annotations, shapes=shapes, hovermode=False,
)

fig.write_html("out.html")
